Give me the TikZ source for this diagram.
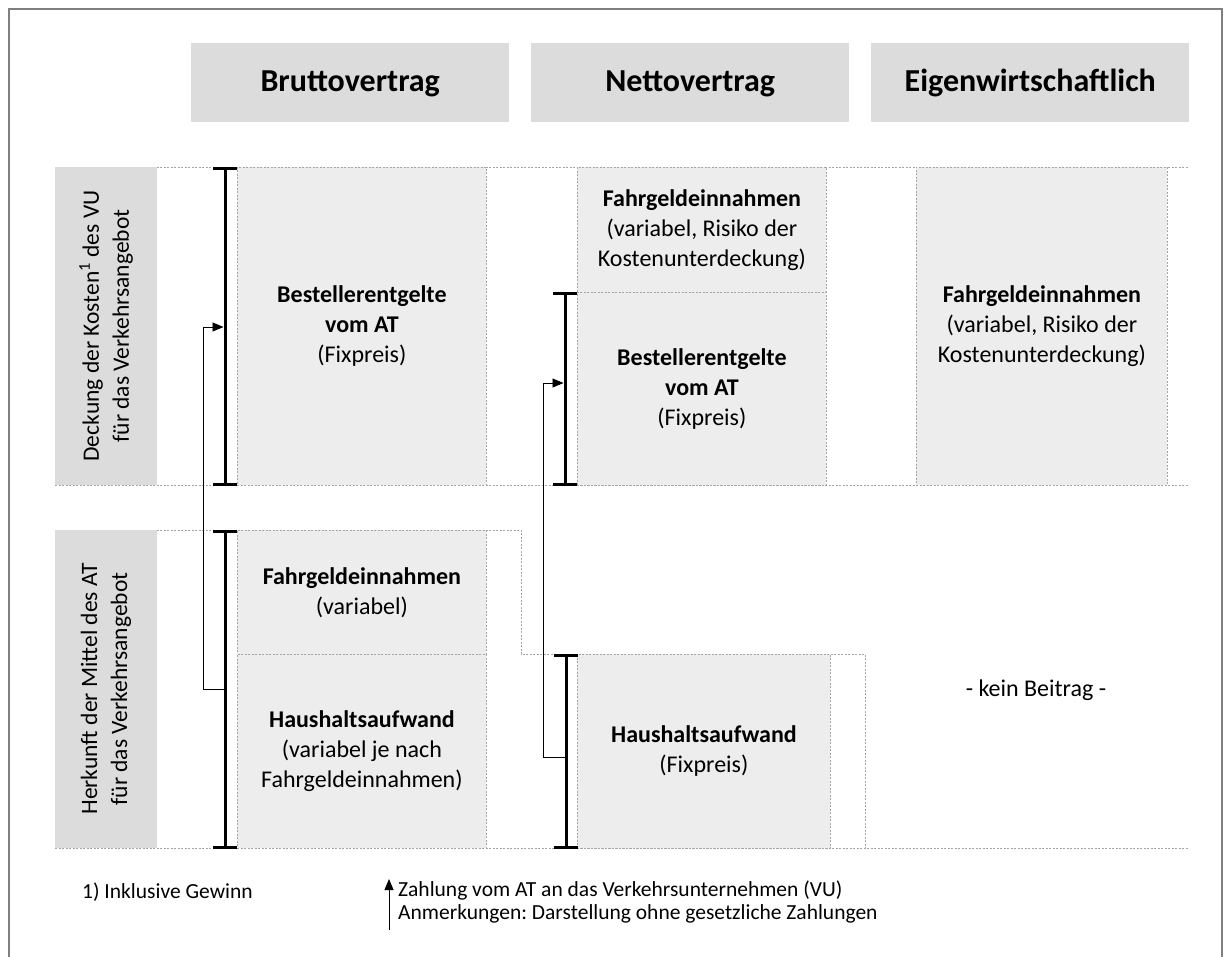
\documentclass[tikz,border=0pt]{standalone}
\usepackage{fontspec}
\setmainfont{Carlito}
\usetikzlibrary{arrows.meta}
\definecolor{hdrgray}{HTML}{DCDCDC}
\definecolor{boxgray}{HTML}{EDEDED}
\definecolor{dotgray}{HTML}{A6A6A6}
\definecolor{framegray}{HTML}{7F7F7F}
\frenchspacing
\tikzset{
  dotline/.style={draw=dotgray, dash pattern=on 2pt off 1.5pt, line width=0.8pt},
  hdr/.style={fill=hdrgray, anchor=north west, inner sep=0pt, minimum width=318pt, minimum height=79pt,
    text height=23pt, text depth=6pt, font=\fontsize{32}{38}\selectfont\bfseries},
  side/.style={fill=hdrgray, rotate=90, inner sep=0pt, minimum width=318pt, minimum height=102pt,
    align=center, font=\fontsize{23.5}{30}\selectfont},
  cell/.style={fill=boxgray, dotline, anchor=north west, inner sep=0pt, align=center,
    font=\fontsize{24}{30}\selectfont},
  plain/.style={inner sep=0pt, align=center, font=\fontsize{24}{30}\selectfont},
  legend/.style={inner sep=0pt, anchor=west, font=\fontsize{21.5}{24}\selectfont},
  bracket/.style={line width=3pt, {Bar[width=24pt]}-{Bar[width=24pt]}},
  pay/.style={line width=0.9pt, -{Triangle[length=11pt,width=9pt]}}
}
\begin{document}
\begin{tikzpicture}[x=1pt,y=-1pt]
\useasboundingbox (0,0) rectangle (1231,956);
% frame
\draw[framegray, line width=2.5pt] (9,970) -- (9,9) -- (1222,9) -- (1222,970);
% headers
\node[hdr] (hB) at (191,43) {Bruttovertrag};
\node[hdr] (hN) at (531,43) {Nettovertrag};
\node[hdr] (hE) at (871,43) {Eigenwirtschaftlich};
% guide lines
\draw[dotline] (55,167) -- (1188,167);
\draw[dotline] (55,485) -- (1188,485);
\draw[dotline] (55,530) -- (521,530) -- (521,654) -- (865,654) -- (865,848);
\draw[dotline] (55,848) -- (1188,848);
% side labels
\node[side] (sD) at (106,326) {Deckung der Kosten\textsuperscript{1} des VU\\für das Verkehrsangebot};
\node[side] (sH) at (106,689) {Herkunft der Mittel des AT\\für das Verkehrsangebot};
% Brutto
\node[cell, minimum width=249pt, minimum height=318pt] (bB) at (237,167)
  {\textbf{Bestellerentgelte}\\\textbf{vom AT}\\(Fixpreis)};
\node[cell, minimum width=249pt, minimum height=124pt] (bF) at (237,530)
  {\textbf{Fahrgeldeinnahmen}\\(variabel)};
\node[cell, minimum width=249pt, minimum height=194pt] (bH) at (237,654)
  {\textbf{Haushaltsaufwand}\\(variabel je nach\\Fahrgeldeinnahmen)};
% Netto
\node[cell, minimum width=249pt, minimum height=125pt] (nF) at (577,167)
  {\textbf{Fahrgeldeinnahmen}\\(variabel, Risiko der\\Kostenunterdeckung)};
\node[cell, minimum width=249pt, minimum height=193pt] (nB) at (577,292)
  {\textbf{Bestellerentgelte}\\\textbf{vom AT}\\(Fixpreis)};
\node[cell, minimum width=253pt, minimum height=194pt] (nH) at (577,654)
  {\textbf{Haushaltsaufwand}\\(Fixpreis)};
% Eigen
\node[cell, minimum width=251pt, minimum height=318pt] (eF) at (916,167)
  {\textbf{Fahrgeldeinnahmen}\\(variabel, Risiko der\\Kostenunterdeckung)};
\node[plain] (eK) at (1036,690) {- kein Beitrag -};
% brackets
\draw[bracket] ([xshift=-12pt]bB.north west) -- ([xshift=-12pt]bB.south west);
\draw[bracket] ([xshift=-12pt]bF.north west) -- ([xshift=-12pt]bH.south west);
\draw[bracket] ([xshift=-12pt]nB.north west) -- ([xshift=-12pt]nB.south west);
\draw[bracket] ([xshift=-11pt]nH.north west) -- ([xshift=-11pt]nH.south west);
% payment arrows
\coordinate (p1s) at (225,689);
\coordinate (p1e) at (223.5,327);
\draw[pay] (p1s) -- ++(-22,0) |- (p1e);
\coordinate (p2s) at (566,757);
\coordinate (p2e) at (563.5,383);
\draw[pay] (p2s) -- ++(-23,0) |- (p2e);
% legend
\node[legend] (l1) at (82,892) {1) Inklusive Gewinn};
\coordinate (la) at (389,930);
\coordinate (lb) at (389,879);
\draw[pay] (la) -- (lb);
\node[legend] (l2) at (398,890) {Zahlung vom AT an das Verkehrsunternehmen (VU)};
\node[legend] (l3) at (398,914) {Anmerkungen: Darstellung ohne gesetzliche Zahlungen};
\end{tikzpicture}
\end{document}
